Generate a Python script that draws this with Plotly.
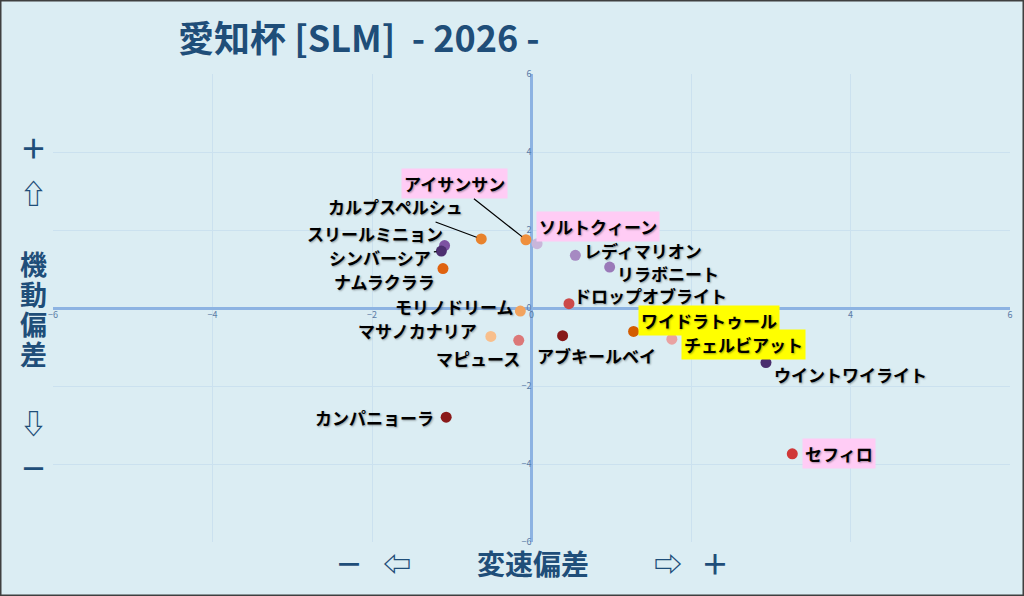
import plotly.graph_objects as go

# data
horses = ['アイサンサン', 'カルプスペルシュ', 'スリールミニョン', 'シンバーシア', 'ナムラクララ',
          'ソルトクィーン', 'レディマリオン', 'リラボニート', 'ドロップオブライト', 'モリノドリーム',
          'ワイドラトゥール', 'マサノカナリア', 'マピュース', 'アブキールベイ', 'チェルビアット',
          'ウイントワイライト', 'カンパニョーラ', 'セフィロ']
speed_dev = [-0.07, -0.63, -1.09, -1.13, -1.11, 0.07, 0.55, 0.98, 0.47, -0.14,
             1.28, -0.51, -0.16, 0.39, 1.76, 2.94, -1.07, 3.27]
mobility_dev = [1.75, 1.77, 1.60, 1.46, 1.01, 1.65, 1.35, 1.05, 0.11, -0.08,
                -0.60, -0.73, -0.83, -0.71, -0.80, -1.40, -2.80, -3.74]
ticks = [-6, -4, -2, 0, 2, 4, 6]

# styles
colors = ['#ef8f3c', '#e8822c', '#7d52a2', '#4d2f70', '#df620f',
          '#c9b6da', '#a689c2', '#9a79b8', '#cc4a4a', '#f2a35e',
          '#d35c00', '#f8bf8c', '#dc7878', '#871818', '#e9a2a2',
          '#4a2e6e', '#8a1a1a', '#d03838']
label_offset = {  # pixel offset of label centre from its point
    'アイサンサン': (-71, -56), 'カルプスペルシュ': (-86, -32), 'スリールミニョン': (-70, -12),
    'シンバーシア': (-61, 6), 'ナムラクララ': (-58, 13), 'ソルトクィーン': (61, -17),
    'レディマリオン': (68, -5), 'リラボニート': (58, 6), 'ドロップオブライト': (82, -8),
    'モリノドリーム': (-66, -5), 'ワイドラトゥール': (75, -11), 'マサノカナリア': (-73, -6),
    'マピュース': (-41, 18), 'アブキールベイ': (34, 20), 'チェルビアット': (72, 5),
    'ウイントワイライト': (85, 12), 'カンパニョーラ': (-72, 0), 'セフィロ': (47, 0),
}
highlight = {'アイサンサン': '#ffccf5', 'ソルトクィーン': '#ffccf5', 'セフィロ': '#ffccf5',
             'ワイドラトゥール': '#ffff00', 'チェルビアット': '#ffff00'}
leaders = ['アイサンサン', 'カルプスペルシュ', 'シンバーシア', 'ドロップオブライト']

FONT = 'Noto Sans CJK JP'
NAVY = '#1f4e79'
BG = '#dbedf3'

W, H = 1024, 596
ML, MR, MT, MB = 53, 14, 74, 54
PW, PH = W - ML - MR, H - MT - MB

fig = go.Figure()
fig.add_trace(go.Scatter(
    x=speed_dev, y=mobility_dev, mode='markers', text=horses,
    marker=dict(size=11, color=colors, line=dict(width=0)),
    hoverinfo='text', showlegend=False,
))

annotations = []
for name, xv, yv in zip(horses, speed_dev, mobility_dev):
    ax, ay = label_offset[name]
    annotations.append(dict(
        x=xv, y=yv, xref='x', yref='y', text=name,
        showarrow=True, ax=ax, ay=ay, arrowhead=0, arrowwidth=1.2, standoff=5,
        arrowcolor='#000000' if name in leaders else 'rgba(0,0,0,0)',
        bgcolor=highlight.get(name, 'rgba(0,0,0,0)'), borderpad=2,
        font=dict(family=FONT, size=17, color='#000000', weight='bold',
                  shadow='1px 1px 2px rgba(0,0,0,0.35)'),
    ))


def px_x(px):
    return (px - ML) / PW


def px_y(py):
    return 1 - (py - MT) / PH


def side_label(txt, px, py, size):
    annotations.append(dict(x=px_x(px), y=px_y(py), xref='paper', yref='paper', text=txt,
                            showarrow=False, xanchor='center', yanchor='middle',
                            font=dict(family=FONT, size=size, color=NAVY, weight='bold')))


# left side labels
for txt, py in [('＋', 147), ('⇧', 192), ('機', 263), ('動', 293), ('偏', 323), ('差', 353),
                ('⇩', 422), ('－', 467)]:
    side_label(txt, 33, py, 27)
# bottom labels
for txt, px in [('－', 349), ('⇦', 397), ('変速偏差', 533), ('⇨', 668), ('＋', 715)]:
    side_label(txt, px, 563, 28)
# title
annotations.append(dict(x=px_x(176), y=px_y(36), xref='paper', yref='paper',
                        text='愛知杯 [SLM]  - 2026 -', showarrow=False,
                        xanchor='left', yanchor='middle',
                        font=dict(family=FONT, size=36, color=NAVY, weight='bold')))

axis_common = dict(
    tickvals=ticks, showgrid=True, gridcolor='#cbe1ef', gridwidth=1,
    zeroline=True, zerolinecolor='#8db3e2', zerolinewidth=3,
    ticks='', tickfont=dict(family=FONT, size=9, color='#5a7ca6'),
    showline=False, anchor='free', position=0.5, fixedrange=True,
)
fig.update_layout(
    width=W, height=H,
    margin=dict(l=ML, r=MR, t=MT, b=MB),
    paper_bgcolor=BG, plot_bgcolor=BG,
    xaxis=dict(range=[-6, 6], **axis_common),
    yaxis=dict(range=[-6, 6], **axis_common),
    annotations=annotations,
    shapes=[dict(type='rect', xref='paper', yref='paper',
                 x0=-ML / PW, x1=1 + MR / PW, y0=-MB / PH, y1=1 + MT / PH,
                 line=dict(color='#3f3f3f', width=3))],
)

fig.write_html('out.html', config={'displayModeBar': False},
               post_script="document.body.style.margin='0';")
